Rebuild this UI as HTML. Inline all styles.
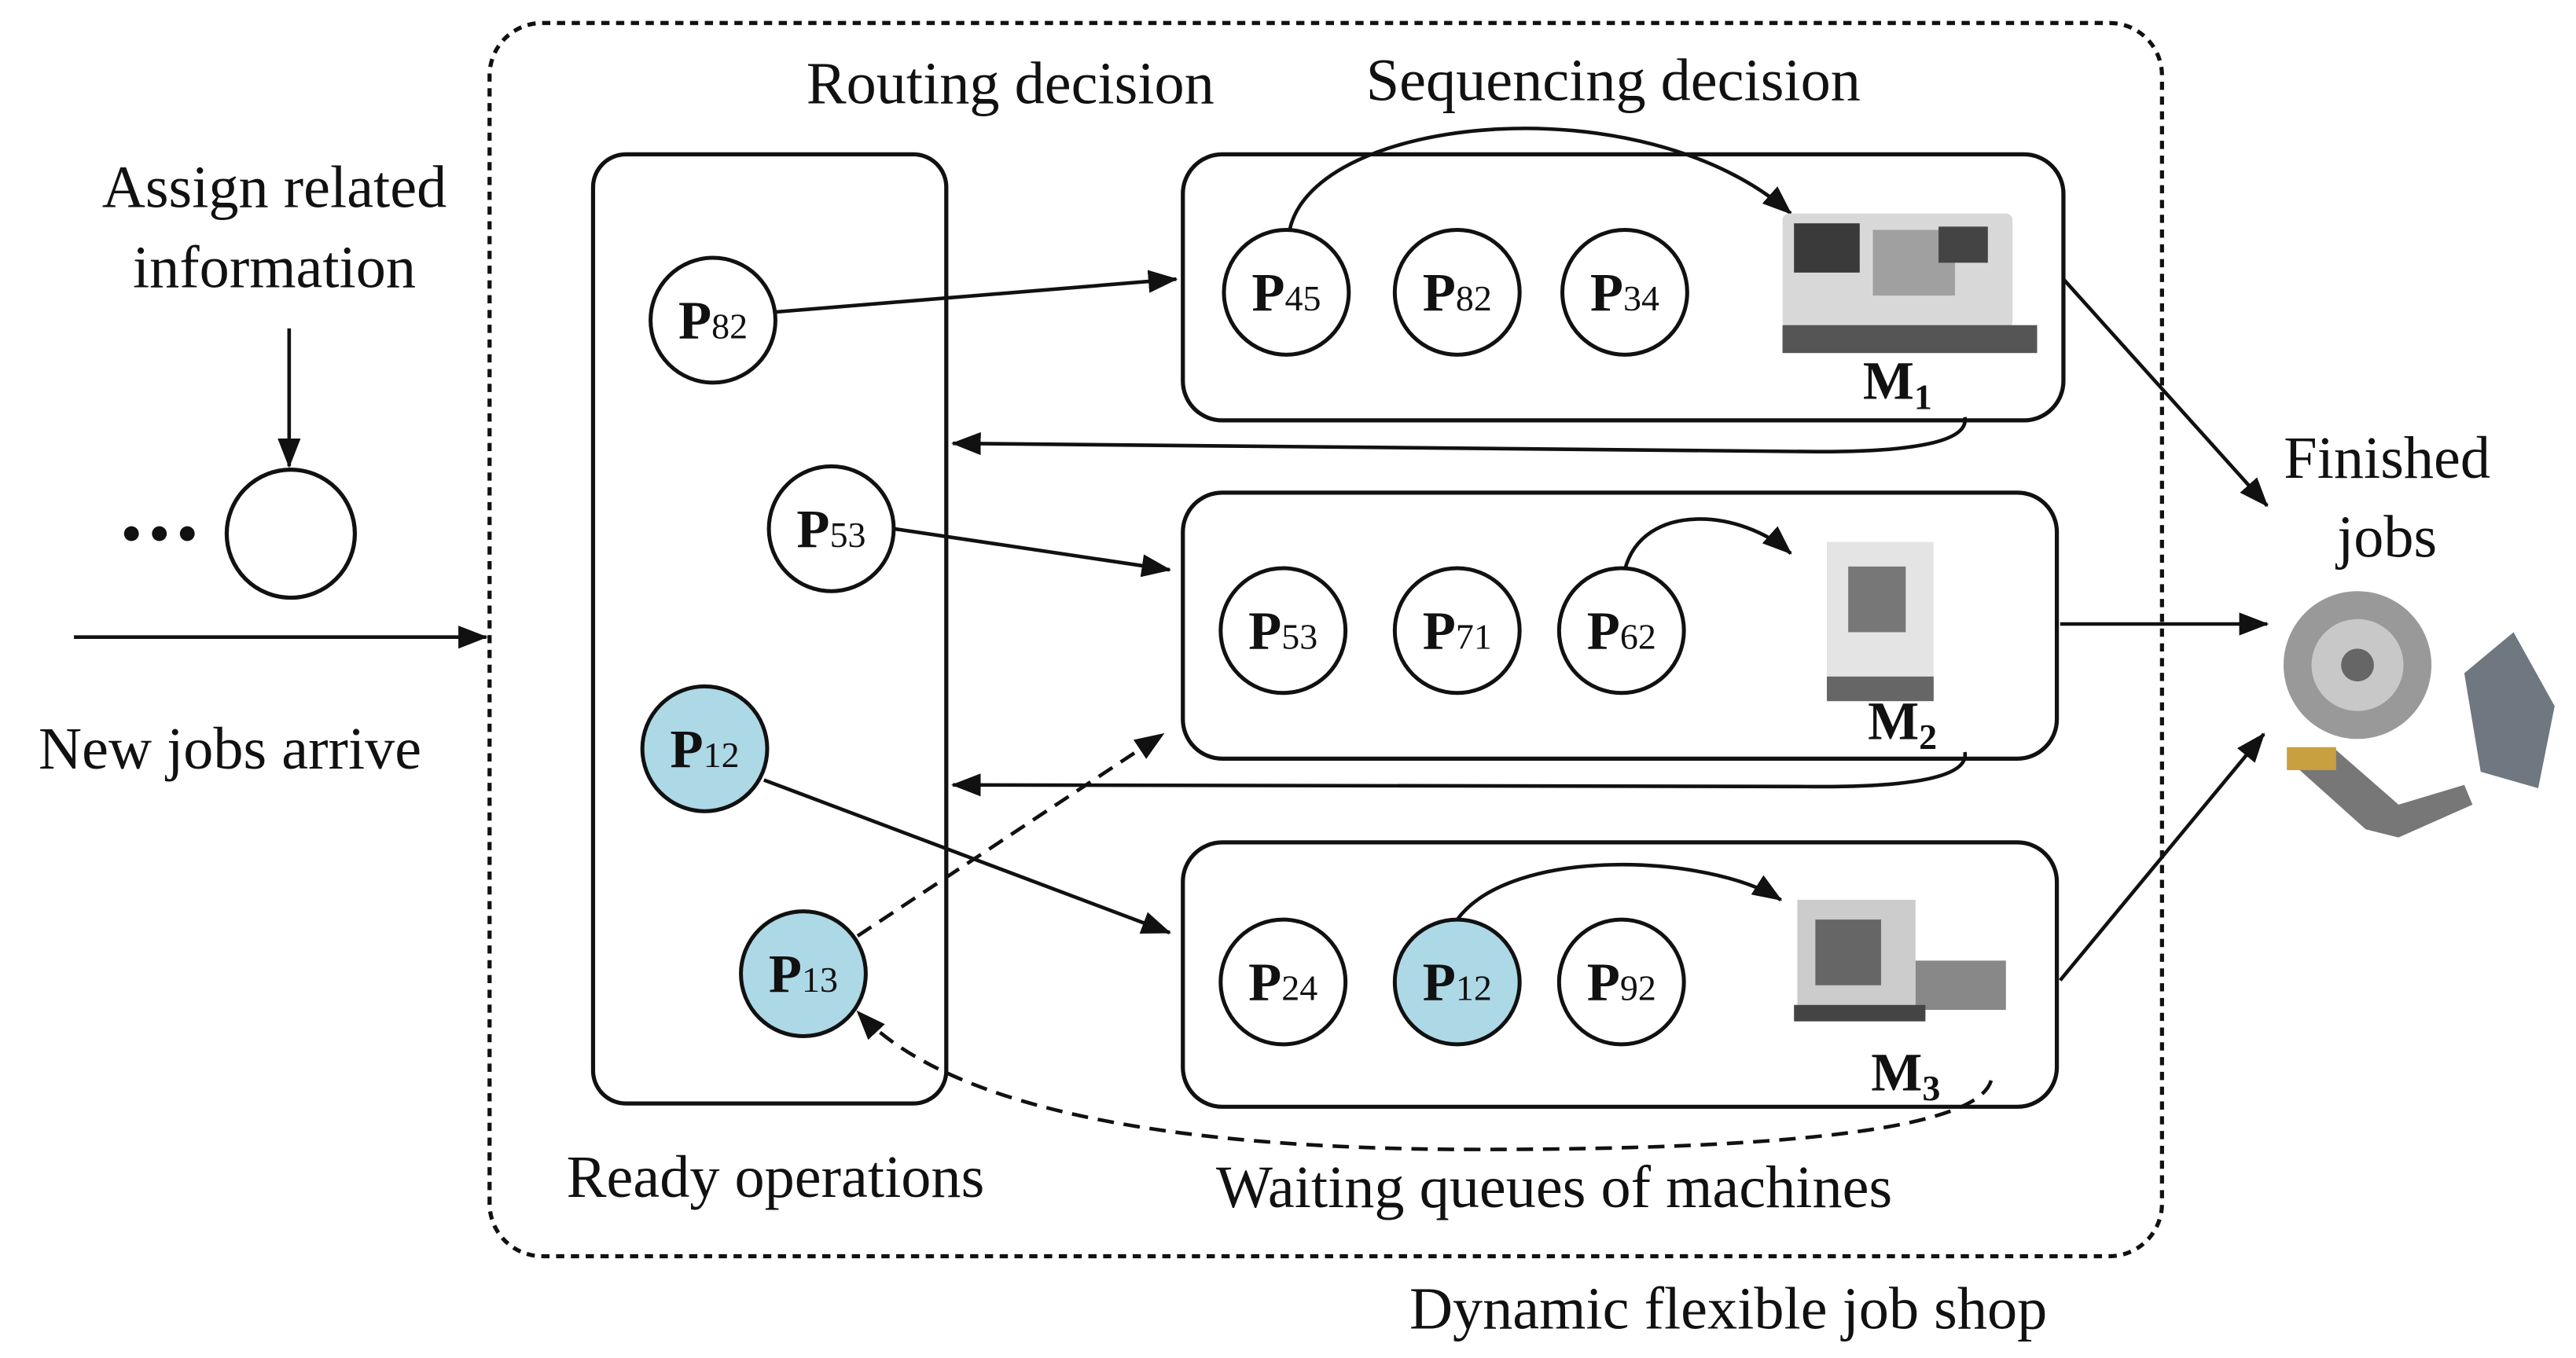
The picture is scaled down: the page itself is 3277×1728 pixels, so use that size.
<!DOCTYPE html>
<html><head><meta charset="utf-8"><style>html,body{margin:0;padding:0;background:#fff}svg{display:block}</style></head>
<body>
<svg width="3277" height="1728" viewBox="0 0 1568 827" preserveAspectRatio="none" xmlns="http://www.w3.org/2000/svg" font-family="Liberation Serif, serif">
<defs>
<marker id="b" markerWidth="18" markerHeight="14" refX="17" refY="7" orient="auto" markerUnits="userSpaceOnUse" viewBox="0 0 18 14"><path d="M0,0 L18,7 L0,14 z" fill="#111"/></marker>
</defs>
<g fill="none" stroke="#111" stroke-width="2.5">
<rect x="298" y="14" width="1018" height="751" rx="32" stroke-dasharray="5,4"/>
<rect x="361" y="94" width="215" height="578" rx="20"/>
<rect x="720" y="94" width="536" height="162" rx="24"/>
<rect x="720" y="300" width="532" height="162" rx="24"/>
<rect x="720" y="513" width="532" height="161" rx="24"/>
<circle cx="177" cy="325" r="39"/>
</g>
<g fill="#111"><circle cx="80" cy="325" r="4.5"/><circle cx="97" cy="325" r="4.5"/><circle cx="114" cy="325" r="4.5"/></g>
<g fill="none" stroke="#111" stroke-width="2.2">
<line x1="45" y1="388" x2="296" y2="388" marker-end="url(#b)"/>
<line x1="176" y1="200" x2="176" y2="284" marker-end="url(#b)"/>
<path d="M472,190 L716,170" marker-end="url(#b)"/>
<path d="M1196,254 Q1200,276 1100,275 L580,270" marker-end="url(#b)"/>
<path d="M544,322 L712,347" marker-end="url(#b)"/>
<path d="M1196,458 Q1200,480 1100,479 L580,478" marker-end="url(#b)"/>
<path d="M465,475 L712,568" marker-end="url(#b)"/>
<path d="M522,570 L708,447" stroke-dasharray="10,6" marker-end="url(#b)"/>
<path d="M1212,658 Q1200,700 900,700 Q600,700 522,616" stroke-dasharray="10,6" marker-end="url(#b)"/>
<path d="M785,140 C800,70 1000,50 1090,130" marker-end="url(#b)"/>
<path d="M989,347 C1000,305 1060,310 1090,337" marker-end="url(#b)"/>
<path d="M887,560 C920,515 1040,520 1084,548" marker-end="url(#b)"/>
<path d="M1256,170 L1380,308" marker-end="url(#b)"/>
<path d="M1254,380 L1380,380" marker-end="url(#b)"/>
<path d="M1254,597 L1378,447" marker-end="url(#b)"/>
</g>
<g stroke="#111" stroke-width="2.4">
<circle cx="434" cy="195" r="38" fill="#fff"/>
<circle cx="506" cy="322" r="38" fill="#fff"/>
<circle cx="429" cy="456" r="38" fill="#add8e6"/>
<circle cx="489" cy="593" r="38" fill="#add8e6"/>
<circle cx="783" cy="178" r="38" fill="#fff"/>
<circle cx="887" cy="178" r="38" fill="#fff"/>
<circle cx="989" cy="178" r="38" fill="#fff"/>
<circle cx="781" cy="384" r="38" fill="#fff"/>
<circle cx="887" cy="384" r="38" fill="#fff"/>
<circle cx="987" cy="384" r="38" fill="#fff"/>
<circle cx="781" cy="598" r="38" fill="#fff"/>
<circle cx="887" cy="598" r="38" fill="#add8e6"/>
<circle cx="987" cy="598" r="38" fill="#fff"/>
</g>
<g font-size="33" text-anchor="middle" fill="#111">
<text x="434" y="206"><tspan font-weight="bold">P</tspan><tspan font-size="22">82</tspan></text>
<text x="506" y="333"><tspan font-weight="bold">P</tspan><tspan font-size="22">53</tspan></text>
<text x="429" y="467"><tspan font-weight="bold">P</tspan><tspan font-size="22">12</tspan></text>
<text x="489" y="604"><tspan font-weight="bold">P</tspan><tspan font-size="22">13</tspan></text>
<text x="783" y="189"><tspan font-weight="bold">P</tspan><tspan font-size="22">45</tspan></text>
<text x="887" y="189"><tspan font-weight="bold">P</tspan><tspan font-size="22">82</tspan></text>
<text x="989" y="189"><tspan font-weight="bold">P</tspan><tspan font-size="22">34</tspan></text>
<text x="781" y="395"><tspan font-weight="bold">P</tspan><tspan font-size="22">53</tspan></text>
<text x="887" y="395"><tspan font-weight="bold">P</tspan><tspan font-size="22">71</tspan></text>
<text x="987" y="395"><tspan font-weight="bold">P</tspan><tspan font-size="22">62</tspan></text>
<text x="781" y="609"><tspan font-weight="bold">P</tspan><tspan font-size="22">24</tspan></text>
<text x="887" y="609"><tspan font-weight="bold">P</tspan><tspan font-size="22">12</tspan></text>
<text x="987" y="609"><tspan font-weight="bold">P</tspan><tspan font-size="22">92</tspan></text>
<text x="1155" y="243" font-weight="bold">M<tspan font-size="22" dy="6">1</tspan></text>
<text x="1158" y="450" font-weight="bold">M<tspan font-size="22" dy="6">2</tspan></text>
<text x="1160" y="664" font-weight="bold">M<tspan font-size="22" dy="6">3</tspan></text>
</g>
<g font-size="36.5" text-anchor="middle" fill="#111">
<text x="167" y="126">Assign related</text>
<text x="167" y="175">information</text>
<text x="140" y="468">New jobs arrive</text>
<text x="615" y="63">Routing decision</text>
<text x="982" y="61">Sequencing decision</text>
<text x="472" y="729">Ready operations</text>
<text x="946" y="735">Waiting queues of machines</text>
<text x="1052" y="809">Dynamic flexible job shop</text>
<text x="1453" y="291">Finished</text>
<text x="1453" y="339">jobs</text>
</g>
<g>
<rect x="1085" y="130" width="140" height="70" rx="4" fill="#d8d8d8"/>
<rect x="1092" y="136" width="40" height="30" fill="#3a3a3a"/>
<rect x="1140" y="140" width="50" height="40" fill="#a0a0a0"/>
<rect x="1180" y="138" width="30" height="22" fill="#444"/>
<rect x="1085" y="198" width="155" height="17" fill="#555"/>
<rect x="1112" y="330" width="65" height="95" fill="#e4e4e4"/>
<rect x="1125" y="345" width="35" height="40" fill="#777"/>
<rect x="1112" y="412" width="65" height="15" fill="#666"/>
<rect x="1094" y="548" width="72" height="72" fill="#ccc"/>
<rect x="1105" y="560" width="40" height="40" fill="#666"/>
<rect x="1166" y="585" width="55" height="30" fill="#888"/>
<rect x="1092" y="612" width="80" height="10" fill="#444"/>
<ellipse cx="1435" cy="405" rx="45" ry="45" fill="#999"/>
<ellipse cx="1435" cy="405" rx="28" ry="28" fill="#c8c8c8"/>
<ellipse cx="1435" cy="405" rx="10" ry="10" fill="#666"/>
<path d="M1500,410 L1530,385 L1555,430 L1545,480 L1510,470 Z" fill="#6f7880"/>
<path d="M1392,462 L1420,455 L1460,490 L1500,478 L1505,490 L1460,510 L1440,505 Z" fill="#777"/>
<rect x="1392" y="455" width="30" height="14" fill="#c8a040"/>
</g>
</svg>
</body></html>
